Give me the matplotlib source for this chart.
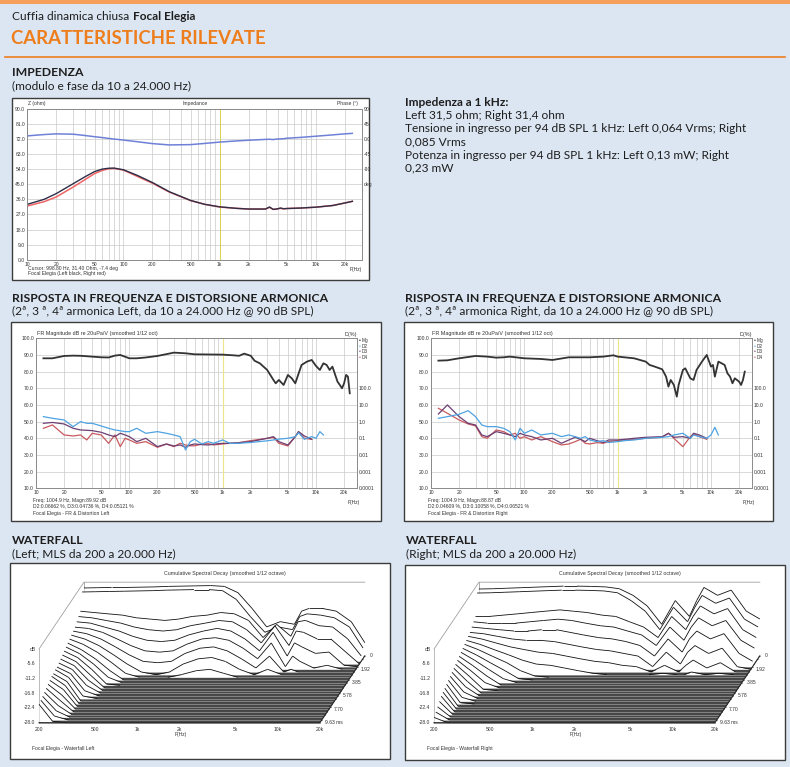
import numpy as np
import matplotlib
matplotlib.use("Agg")
import matplotlib.pyplot as plt
from matplotlib.patches import Rectangle, Polygon
from matplotlib.collections import LineCollection

W, H = 790, 767
BG = "#dce6f2"
ORANGE = "#ee7d1c"
PAGE_FONT = ["Lato", "DejaVu Sans"]
CHART_FONT = ["Liberation Sans", "DejaVu Sans"]
GRID = "#c9c9c9"
BODY = 8.6
HEAD = 8.8

# ---------------- impedance (modulo e fase) ----------------
Z_FREQ = [10, 15, 20, 30, 40, 50, 60, 70, 80, 100, 140, 200, 300, 500, 700,
          1000, 1500, 2000, 3000, 3300, 3600, 3900, 4300, 4600, 5000, 7000,
          10000, 15000, 20000, 24000]
Z_LEFT = [33.0, 36.0, 39.4, 45.3, 49.5, 52.5, 54.0, 54.5, 54.6, 53.6, 50.2,
          46.0, 40.5, 35.3, 33.0, 31.5, 30.6, 30.2, 30.2, 31.4, 30.0, 30.2,
          30.8, 30.4, 30.5, 30.8, 31.3, 32.3, 33.8, 34.8]
Z_RIGHT = [32.0, 34.6, 37.4, 43.3, 47.8, 51.3, 53.2, 54.2, 54.4, 53.4, 49.6,
           45.6, 40.3, 35.2, 33.0, 31.4, 30.6, 30.2, 30.2, 31.2, 30.0, 30.2,
           30.6, 30.3, 30.5, 30.8, 31.3, 32.3, 33.8, 34.8]
PHASE = [9.0, 13, 15, 14, 10, 6.5, 4, 1.5, -0.5, -3.5, -8.5, -14, -18, -17,
         -13.5, -9.5, -6, -4, -1.5, -1, -2, -0.5, 0, 0.5, 2, 4.5, 8, 12, 15, 16.5]

# ---------------- risposta in frequenza ----------------
FR_L_FREQ = [12, 15, 20, 25, 30, 40, 50, 60, 70, 80, 100, 120, 150, 200, 300,
             400, 500, 700, 1000, 1300, 1500, 1700, 2000, 2200, 2500, 3000,
             3500, 3700, 4000, 4500, 5000, 5500, 6000, 7000, 8000, 9000, 10000,
             11000, 12000, 13000, 14000, 15000, 17000, 18000, 19000, 20000,
             21000, 22000, 23000]
FR_L_MAG = [88.0, 88.0, 89.4, 89.6, 89.5, 89.0, 88.6, 88.5, 89.6, 90.0, 88.0,
            88.0, 88.5, 89.4, 91.4, 91.0, 90.4, 90.3, 90.2, 89.8, 89.5, 90.8,
            89.5, 86.5, 85.0, 81.0, 75.0, 73.0, 75.0, 72.0, 78.0, 76.0, 73.0,
            84.0, 86.0, 87.0, 83.4, 81.0, 85.0, 84.0, 81.0, 83.0, 74.0, 72.0,
            70.0, 73.0, 78.0, 77.0, 67.0]
FR_R_FREQ = [12, 15, 20, 30, 40, 50, 60, 70, 100, 150, 200, 300, 500, 700, 900,
             1000, 1500, 2000, 2200, 2500, 3000, 3300, 3500, 3700, 4000, 4300,
             4500, 5000, 5300, 6000, 6500, 7000, 8000, 9000, 10000, 10500,
             11000, 12000, 13000, 14000, 15000, 16000, 17000, 18000, 20000,
             21000, 22000, 23000]
FR_R_MAG = [86.6, 86.8, 88.0, 89.4, 89.0, 88.4, 88.6, 89.0, 88.0, 87.6, 87.0,
            88.6, 88.6, 89.0, 89.8, 89.0, 88.0, 86.0, 84.0, 83.0, 81.4, 77.0,
            71.0, 75.0, 72.0, 65.0, 72.0, 81.0, 82.0, 76.0, 75.0, 81.0, 86.0,
            90.0, 83.0, 84.0, 77.0, 86.0, 85.0, 84.0, 79.0, 77.0, 73.0, 76.0,
            74.0, 72.0, 75.0, 80.0]

# distortion, read on the left dB scale (40 dB = 0.1 %)
DIST_FREQ = [12, 15, 20, 25, 30, 35, 40, 50, 60, 70, 80, 90, 100, 120, 150,
             200, 250, 300, 350, 400, 450, 500, 600, 700, 800, 1000, 1200,
             1500, 2000, 3000, 3500, 4000, 5000, 6000, 6500, 7500, 9000,
             10000, 11000, 12000]
D2_L = [53, 52, 51, 47, 50, 49, 49, 47.4, 46, 45, 44.5, 44, 44, 46, 43, 44,
        43, 42, 41, 33, 38, 39.4, 36.6, 38, 37, 39, 37, 37, 37.5, 38.5, 39,
        39.5, 40, 41, 43.4, 39.4, 41, 40, 44, 42]
D3_L = [49, 49.5, 48.6, 46, 45, 44.8, 44.6, 43.6, 42, 41, 43, 42, 41, 38, 40,
        35, 36.6, 35.4, 36, 34.6, 36, 36.6, 36.2, 36, 36.5, 37, 37, 37.4, 38,
        40, 41, 38, 36, 41, 44, 41.4, 39.4]
D4_L = [46, 48, 42, 41.4, 42, 39, 43, 42, 37, 42, 35, 40, 39, 37, 38, 34.6,
        36.5, 35, 37, 36, 35.5, 35.5, 36.5, 36.8, 36, 36.6, 37, 37.4, 38.6,
        40, 40.5, 37, 35.4, 41, 44, 40, 39.4]
D2_R = [52, 53, 54.4, 56.6, 53, 48, 47, 47, 46, 44, 39, 46, 43, 45, 42, 43,
        41, 42, 41, 40, 41, 39, 38, 38.6, 37.5, 38, 38.6, 39, 40, 40.6, 41,
        42, 43, 40, 42, 41, 40, 42, 46.6, 42]
D3_R = [54.6, 60, 53, 49, 48, 42, 41, 44, 43, 42, 41, 43, 42, 41, 39, 40, 37,
        39, 40.6, 39.4, 38, 40, 38.6, 37.4, 39, 39, 39.4, 40, 40.6, 41, 43,
        40.6, 41, 40, 43, 42, 40]
D4_R = [58, 55, 51, 48.6, 47.4, 41, 40, 45, 44, 42, 43, 40, 41, 39, 41, 38,
        36, 36.6, 38, 39.4, 37, 36.6, 37.4, 37, 38, 38.6, 39, 39.4, 40, 40.6,
        43, 40, 35, 41, 42.6, 41, 39.4]

FR_TICKS = [10, 20, 50, 100, 200, 500, 1000, 2000, 5000, 10000, 20000]
FR_TICKLABELS = ["10", "20", "50", "100", "200", "500", "1k", "2k", "5k",
                 "10k", "20k"]

# ---------------- waterfall ----------------
F = -28.0  # floor of the plot
WF_FREQ = [200, 250, 315, 400, 500, 630, 800, 1000, 1250, 1600, 2000, 2500,
           3150, 4000, 5000, 6300, 7100, 8000, 10000, 12500, 16000, 20000]
WF_TIME = [0.00, 0.39, 0.77, 1.16, 1.54, 1.93, 2.31, 2.70, 3.08, 3.47, 3.85,
           4.24, 4.62, 5.01, 5.39, 5.78, 6.16, 6.55, 6.93, 7.32, 7.70, 8.09,
           8.47, 8.86, 9.24, 9.63]


def pad(*vals):
    return list(vals) + [F] * (len(WF_FREQ) - len(vals))


WF_LEFT = [
    [-2.2, -2.1, -2.0, -2.0, -1.9, -1.8, -1.6, -1.5, -1.4, -1.3, -1.6, -4.0, -10.0, -17.0, -15.0, -16.0, -11.0, -10.0, -10.0, -11.0, -15.0, -23.0],
    [-2.7, -2.6, -2.5, -2.4, -2.3, -2.2, -2.0, -1.9, -1.8, -1.8, -2.2, -5.5, -12.0, -18.0, -16.0, -17.0, -12.0, -11.0, -11.5, -12.5, -16.0, -24.0],
    [-9.0, -9.5, -10.0, -10.5, -11.5, -12.0, -12.5, -12.0, -11.0, -10.5, -9.5, -10.0, -12.5, -19.0, -14.0, -18.5, -13.0, -12.5, -14.5, -15.0, -19.5, -26.0],
    [-10.0, -10.5, -11.5, -12.5, -14.0, -15.0, -15.5, -15.0, -13.5, -12.5, -11.5, -12.0, -15.0, -20.0, -13.5, -21.0, -15.5, -16.0, -18.5, -18.5, -23.5, F],
    [-11.0, -11.5, -13.0, -14.5, -16.5, -18.0, -18.5, -18.0, -16.0, -14.5, -13.5, -14.5, -17.5, -22.0, -15.0, -24.0, -19.0, -20.5, -23.0, -22.5, -27.5, F],
    [-12.0, -12.5, -14.0, -16.5, -19.0, -21.0, -21.5, -21.0, -18.5, -16.5, -16.0, -17.0, -20.0, -24.0, -18.0, -27.0, -23.0, -25.0, -27.5, -26.5, F, F],
    [-12.5, -13.5, -15.5, -18.5, -21.5, -24.0, -24.5, -24.0, -21.0, -19.0, -18.5, -20.0, -23.0, -26.5, -22.0, F, -27.0, F, F, F, F, F],
    [-13.0, -14.5, -17.0, -20.5, -24.0, -27.0, F, -27.0, -24.0, -22.0, -21.5, -23.0, -26.0, F, -26.0, F, F, F, F, F, F, F],
    [-13.5, -15.5, -18.5, -22.5, -26.5, F, F, F, -27.0, -25.5, -25.0, -26.5, F, F, F, F, F, F, F, F, F, F],
    pad(-14.0, -16.5, -20.0, -24.5),
    pad(-14.5, -17.0, -21.0, -26.0),
    pad(-15.0, -17.5, -22.0, -27.5),
    pad(-15.5, -18.0, -23.0),
    pad(-16.0, -18.5, -24.0),
    pad(-16.5, -19.0, -25.0),
    pad(-17.0, -19.5, -26.0),
    pad(-17.0, -20.0, -27.0),
    pad(-17.5, -20.5),
    pad(-17.5, -21.0),
    pad(-18.0, -21.5),
    pad(-18.5, -22.5),
    pad(-19.0, -23.5),
    pad(-19.5, -24.5),
    pad(-20.0, -25.5),
    pad(-20.5, -26.5),
    pad(-21.0, -27.5),
]

WF_RIGHT = [
    [-2.6, -2.5, -2.3, -2.1, -1.9, -1.7, -1.5, -1.5, -1.6, -1.8, -2.5, -5.0, -9.0, -16.0, -7.0, -13.0, -7.0, -2.0, -5.0, -3.0, -11.0, -14.0],
    [-3.1, -3.0, -2.8, -2.6, -2.4, -2.2, -2.0, -2.0, -2.1, -2.3, -3.0, -6.0, -10.0, -17.0, -8.5, -14.0, -8.5, -4.0, -7.0, -5.0, -13.0, -16.0],
    [-11.0, -11.0, -10.5, -10.0, -9.5, -9.0, -8.5, -9.0, -9.5, -10.5, -11.0, -13.0, -15.0, -19.0, -11.0, -16.0, -11.0, -7.0, -10.0, -8.0, -16.0, -19.0],
    [-12.0, -12.5, -12.5, -12.5, -12.0, -11.5, -11.0, -11.5, -12.5, -13.5, -14.0, -15.5, -17.0, -21.0, -14.0, -19.0, -14.0, -10.5, -13.5, -11.5, -19.0, -22.0],
    [-13.0, -13.5, -14.0, -14.5, -14.5, -14.0, -14.0, -15.0, -16.0, -17.0, -17.5, -18.5, -20.0, -24.0, -17.5, -22.5, -17.5, -14.5, -17.5, -15.5, -23.0, -26.0],
    [-14.0, -14.5, -15.5, -16.5, -17.0, -17.0, -17.5, -18.5, -19.5, -20.5, -21.0, -22.0, -23.0, -27.0, -21.5, -26.0, -21.5, -19.0, -22.0, -20.0, -27.0, F],
    [-14.5, -15.5, -17.0, -18.5, -19.5, -20.5, -21.0, -22.0, -23.0, -24.0, -24.5, -25.5, -26.0, F, -25.5, F, -25.5, -23.5, -26.5, -24.5, F, F],
    [-15.0, -16.5, -18.5, -20.5, -22.5, -24.0, -24.5, -25.5, -26.5, -27.5, F, F, F, F, -27.5, F, F, -27.0, F, -27.5, F, F],
    pad(-15.5, -17.5, -20.0, -22.5, -25.5, -27.5),
    pad(-16.0, -18.5, -21.5, -24.5, -27.5),
    pad(-16.5, -19.5, -23.0, -26.5),
    pad(-17.0, -20.5, -24.5),
    pad(-17.5, -21.5, -26.0),
    pad(-18.0, -22.5, -27.5),
    pad(-18.5, -23.5),
    pad(-19.0, -24.5),
    pad(-19.5, -25.5),
    pad(-20.0, -26.5),
    pad(-20.5, -27.5),
    pad(-21.0),
    pad(-21.5),
    pad(-22.0),
    pad(-23.0),
    pad(-24.0),
    pad(-25.0),
    pad(-26.0),
]

WF_TICKS = [200, 500, 1000, 2000, 5000, 10000, 20000]
WF_TICKLABELS = ["200", "500", "1k", "2k", "5k", "10k", "20k"]
WF_DB = [0, -5.6, -11.2, -16.8, -22.4, -28.0]
WF_DBLABELS = ["dB", "-5.6", "-11.2", "-16.8", "-22.4", "-28.0"]
WF_TLAB = [0, 1.92, 3.85, 5.78, 7.70, 9.63]
WF_TLABELS = ["0", "1.92", "3.85", "5.78", "7.70", "9.63 ms"]

fig = plt.figure(figsize=(W / 100, H / 100), dpi=100, facecolor=BG)


def put(x, y, s, **kw):
    kw.setdefault("family", PAGE_FONT)
    kw.setdefault("va", "center")
    kw.setdefault("color", "#1e1e1e")
    return fig.text(x / W, 1 - y / H, s, **kw)


def small(x, y, s, **kw):
    kw.setdefault("family", CHART_FONT)
    kw.setdefault("fontsize", 3.6)
    kw.setdefault("color", "#333333")
    kw.setdefault("va", "center")
    return fig.text(x / W, 1 - y / H, s, **kw)


def axes_px(x0, y0, x1, y1):
    return fig.add_axes([x0 / W, 1 - y1 / H, (x1 - x0) / W, (y1 - y0) / H])


def frame(x0, y0, x1, y1):
    fig.add_artist(Rectangle((x0 / W, 1 - y1 / H), (x1 - x0) / W, (y1 - y0) / H,
                             transform=fig.transFigure, fc="white",
                             ec="#3c3c3c", lw=1.0, zorder=-1))


def log_grid(lo, hi):
    return [m * 10 ** e for e in range(1, 5) for m in range(1, 10)
            if lo <= m * 10 ** e <= hi]


def style_axes(ax):
    for s in ax.spines.values():
        s.set_color("#8a8a8a")
        s.set_linewidth(0.6)
    ax.tick_params(length=0, labelsize=3.6, colors="#333333", pad=1.5)
    for lab in ax.get_xticklabels() + ax.get_yticklabels():
        lab.set_family(CHART_FONT)


# ---------------- page header ----------------
fig.add_artist(Rectangle((0, 1 - 3.5 / H), 1, 3.5 / H, transform=fig.transFigure,
                         fc="#f4a05a", ec="none"))
put(12, 17, "Cuffia dinamica chiusa", fontsize=BODY)
put(133, 17, "Focal Elegia", fontsize=BODY, weight="bold")
put(11, 38, "CARATTERISTICHE RILEVATE", fontsize=13.4, weight="bold", color=ORANGE)
fig.add_artist(plt.Line2D([5 / W, 785 / W], [1 - 56.5 / H] * 2, color=ORANGE, lw=1.2))

put(12, 72, "IMPEDENZA", fontsize=HEAD, weight="bold")
put(12, 86, "(modulo e fase da 10 a 24.000 Hz)", fontsize=BODY)

info = ["Left 31,5 ohm; Right 31,4 ohm",
        "Tensione in ingresso per 94 dB SPL 1 kHz: Left 0,064 Vrms; Right",
        "0,085 Vrms",
        "Potenza in ingresso per 94 dB SPL 1 kHz: Left 0,13 mW; Right",
        "0,23 mW"]
put(405, 102, "Impedenza a 1 kHz:", fontsize=BODY, weight="bold")
for i, line in enumerate(info):
    put(405, 115.5 + 13.2 * i, line, fontsize=BODY)

for x in (12, 405):
    put(x, 298, "RISPOSTA IN FREQUENZA E DISTORSIONE ARMONICA", fontsize=HEAD,
        weight="bold")
put(12, 311, "(2ª, 3 ª, 4ª armonica Left, da 10 a 24.000 Hz @ 90 dB SPL)", fontsize=BODY)
put(405, 311, "(2ª, 3 ª, 4ª armonica Right, da 10 a 24.000 Hz @ 90 dB SPL)", fontsize=BODY)

put(12, 541, "WATERFALL", fontsize=HEAD, weight="bold")
put(12, 554, "(Left; MLS da 200 a 20.000 Hz)", fontsize=BODY)
put(406, 541, "WATERFALL", fontsize=HEAD, weight="bold")
put(406, 554, "(Right; MLS da 200 a 20.000 Hz)", fontsize=BODY)

# ---------------- impedance chart ----------------
frame(12, 98, 369, 280)
axz = axes_px(27.3, 108.7, 361.7, 259.7)
axz.set_xscale("log")
axz.set_xlim(10, 30000)
axz.set_ylim(0, 90)
axz.set_xticks(log_grid(10, 30000), minor=True)
axz.set_xticks(FR_TICKS)
axz.set_xticklabels(FR_TICKLABELS)
axz.xaxis.set_minor_formatter(plt.NullFormatter())
axz.set_yticks(np.arange(0, 91, 9))
axz.set_yticklabels(["%.1f" % v for v in np.arange(0, 91, 9)])
axz.grid(True, which="both", axis="x", color=GRID, lw=0.5)
axz.grid(True, which="major", axis="y", color=GRID, lw=0.5)
axz.tick_params(which="minor", length=0)
axz.axvline(998.8, color="#d9d24a", lw=0.7)
axz.plot(Z_FREQ, Z_RIGHT, color="#f06464", lw=1.1)
axz.plot(Z_FREQ, Z_LEFT, color="#2e2f48", lw=1.0)
style_axes(axz)
axp = axz.twinx()
axp.set_ylim(-360, 90)
axp.plot(Z_FREQ, PHASE, color="#6f80d8", lw=1.1)
axp.set_yticks([90, 45, 0, -45, -90, -135])
axp.set_yticklabels(["90", "45", "0.0", "-45", "-90", "deg"])
style_axes(axp)
small(28, 104, "Z (ohm)")
small(195, 104, "Impedance", ha="center")
small(358, 104, "Phase (°)", ha="right")
small(362, 269, "F(Hz)", ha="right")
small(28, 268.5, "Cursor: 998.80 Hz, 31.40 Ohm, -7.4 deg")
small(28, 274, "Focal Elegia (Left black, Right red)")


# ---------------- FR + distortion ----------------
def fr_chart(box, plot, freq, mag, d2, d3, d4, line1, line2, caption):
    frame(*box)
    x0, y0, x1, y1 = plot
    ax = axes_px(x0, y0, x1, y1)
    ax.set_xscale("log")
    ax.set_xlim(10, 27500)
    ax.set_ylim(10, 100)
    ax.set_xticks(log_grid(10, 27500), minor=True)
    ax.set_xticks(FR_TICKS)
    ax.set_xticklabels(FR_TICKLABELS)
    ax.xaxis.set_minor_formatter(plt.NullFormatter())
    ax.set_yticks(np.arange(10, 101, 10))
    ax.set_yticklabels(["%.1f" % v for v in np.arange(10, 101, 10)])
    ax.grid(True, which="both", axis="x", color=GRID, lw=0.5)
    ax.grid(True, which="major", axis="y", color=GRID, lw=0.5)
    ax.tick_params(which="minor", length=0)
    ax.axvline(1004.9, color="#ece58a", lw=0.8)
    ax.plot(DIST_FREQ[:len(d4)], d4, color="#c85a5e", lw=0.9)
    ax.plot(DIST_FREQ[:len(d3)], d3, color="#6c3f72", lw=0.9)
    ax.plot(DIST_FREQ[:len(d2)], d2, color="#4ea3e2", lw=0.9)
    ax.plot(freq, mag, color="#333333", lw=1.3)
    style_axes(ax)
    axd = ax.twinx()
    axd.set_yscale("log")
    axd.set_ylim(1e-4, 1e5)
    axd.set_yticks([1e-4, 1e-3, 1e-2, 1e-1, 1, 10, 100])
    axd.set_yticklabels(["0.0001", "0.001", "0.01", "0.1", "1.0", "10.0", "100.0"])
    axd.yaxis.set_minor_locator(plt.NullLocator())
    style_axes(axd)
    small(x0 + 1, y0 - 5, "FR Magnitude dB re 20uPa/V (smoothed 1/12 oct)", fontsize=3.9)
    small(x1, y0 - 4, "D(%)", ha="right", fontsize=3.9)
    for i, (name, col) in enumerate(zip(["Mg", "D2", "D3", "D4"],
                                        ["#222222", "#4ea3e2", "#6c3f72", "#c85a5e"])):
        small(x1 + 2, y0 + 2.5 + 5.5 * i, "•", color=col, fontsize=3.6)
        small(x1 + 4.5, y0 + 2.5 + 5.5 * i, name, fontsize=3.4)
    small(x1 + 3, y1 + 14, "F(Hz)", ha="right")
    small(x0 - 3, y1 + 12, line1)
    small(x0 - 3, y1 + 17, line2)
    small(x0 - 3, y1 + 25, caption)


fr_chart((11, 322, 381, 521), (36, 338.3, 357, 488.3), FR_L_FREQ, FR_L_MAG,
         D2_L, D3_L, D4_L, "Freq: 1004.9 Hz, Magn:89.92 dB",
         "D2:0.06662 %, D3:0.04736 %, D4:0.05121 %",
         "Focal Elegia - FR & Distortion Left")
fr_chart((404, 322, 773, 521), (431, 338.3, 752, 488.3), FR_R_FREQ, FR_R_MAG,
         D2_R, D3_R, D4_R, "Freq: 1004.9 Hz, Magn:88.87 dB",
         "D2:0.04609 %, D3:0.10058 %, D4:0.06521 %",
         "Focal Elegia - FR & Distortion Right")

# ---------------- waterfall ----------------
DX, DY, TMAX = 0.32, 25.4, 9.63
XS, YS = 0.00712, 0.38  # decades / px, dB / px


def waterfall(box, levels, caption):
    bx0, by0, bx1, by1 = box
    frame(*box)
    ax = axes_px(bx0, by0, bx1, by1)
    l200 = np.log10(200)
    ax.set_xlim(l200 - 29 * XS, l200 + (bx1 - bx0 - 29) * XS)
    ax.set_ylim(F - (by1 - 722.7) * YS, F + (722.7 - by0) * YS)
    ax.axis("off")
    lf = np.log10(WF_FREQ)
    a, b = lf[0], lf[-1]
    ax.add_patch(Polygon([(a, F), (b, F), (b + DX, F + DY), (a + DX, F + DY)],
                         closed=True, fc="#474747", ec="none", zorder=1))
    ax.plot([a, a + DX, b + DX], [0, DY, DY], color="#a0a0a0", lw=0.6, zorder=1.5)
    ax.plot([a + DX, a + DX], [DY, F + DY], color="#a0a0a0", lw=0.6, zorder=1.5)
    ax.plot([a, a], [0, F], color="#a0a0a0", lw=0.5, zorder=1.5)
    for k, t in enumerate(WF_TIME):
        frac = 1 - t / TMAX
        xo = lf + frac * DX
        base = F + frac * DY
        lev = np.array(levels[k])
        yv = lev + frac * DY
        z = 2 + 3 * k
        ax.plot([xo[0], xo[-1]], [base, base], color="#8e8e8e", lw=0.6, zorder=z)
        ax.fill_between(xo, base, yv, color="white", lw=0, zorder=z + 1)
        up = lev > F + 1e-6
        keep = up[:-1] | up[1:]
        pts = np.column_stack([xo, yv])
        segs = [pts[i:i + 2] for i in range(len(xo) - 1) if keep[i]]
        ax.add_collection(LineCollection(segs, colors="#111111", lw=0.6, zorder=z + 2))
    ax.plot([a, b, b + DX], [F, F, F + DY], color="#222222", lw=0.8, zorder=200)
    for v, s in zip(WF_DB, WF_DBLABELS):
        ax.text(a - 0.025, v, s, ha="right", va="center", fontsize=3.6,
                family=CHART_FONT, color="#333333")
    for f, s in zip(WF_TICKS, WF_TICKLABELS):
        ax.text(np.log10(f), F - 2.4, s, ha="center", va="center", fontsize=3.6,
                family=CHART_FONT, color="#333333")
    for t, s in zip(WF_TLAB, WF_TLABELS):
        frac = 1 - t / TMAX
        ax.text(b + frac * DX + 0.035, F + frac * DY, s, ha="left", va="center",
                fontsize=3.6, family=CHART_FONT, color="#333333")
    ax.text(np.log10(2050), F - 4.4, "F(Hz)", ha="center", va="center",
            fontsize=3.6, family=CHART_FONT, color="#333333")
    ax.text((a + b) / 2 + DX, DY + 3.3,
            "Cumulative Spectral Decay (smoothed 1/12 octave)", ha="center",
            va="center", fontsize=3.8, family=CHART_FONT, color="#333333")
    ax.text(a - 7 * XS, F - 9.8, caption, ha="left", va="center", fontsize=3.6,
            family=CHART_FONT, color="#333333")


waterfall((10, 563, 390, 759), WF_LEFT, "Focal Elegia - Waterfall Left")
waterfall((405, 565, 785, 760), WF_RIGHT, "Focal Elegia - Waterfall Right")

fig.savefig("out.png", dpi=100, facecolor=BG)
